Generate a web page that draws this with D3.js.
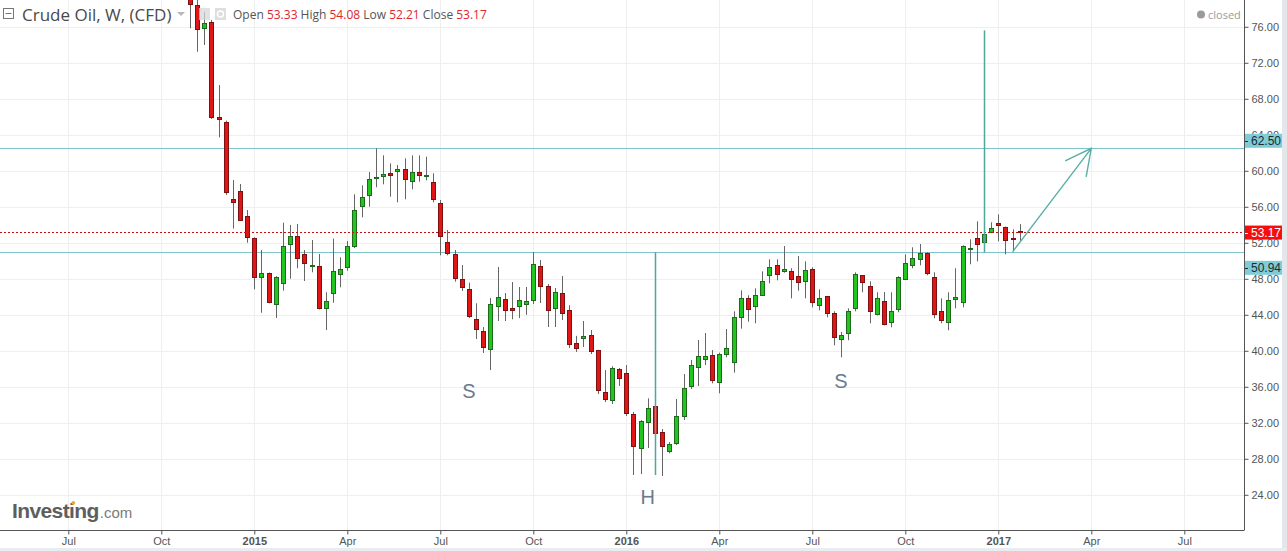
<!DOCTYPE html>
<html><head><meta charset="utf-8">
<script src="https://cdn.jsdelivr.net/npm/d3@7"></script>
<style>
html,body{margin:0;padding:0;background:#fff;overflow:hidden;}
svg{display:block;font-family:"Liberation Sans",Arial,sans-serif;}
</style></head><body>
<svg id="chart" width="1287" height="551"></svg>
<script>
// ---------- DATA ----------
const firstWeek = "2014-11-03"; // weekly bars, one per week from this Monday
const opens = [80.5,78.42,75.83,76.53,65.94,65.39,56.9,57.72,54.94,52.53,48.17,48.61,45.17,47.5,51.9,52.72,50.72,49.4,49.46,44.72,
46.39,48.5,49.34,51.68,56.09,57.31,59.2,59.39,59.76,59.94,60.17,58.83,59.83,59.45,58.72,56.39,52.06,50.72,47.98,46.83,
43.5,42.17,40.23,44.94,45.72,44.72,44.94,45.24,45.61,49.39,47.17,44.72,46.39,44.5,40.87,41.39,41.72,40.06,35.39,34.5,
37.94,37.5,32.94,29.17,32.06,33.83,30.94,28.83,29.72,32.72,36.12,38.17,39.06,39.5,36.57,39.61,38.72,43.72,45.83,44.94,
46.17,48.39,49.5,48.83,48.83,48.28,47.72,49.06,45.06,46.06,44.17,41.28,41.94,44.72,48.39,47.17,44.06,45.5,43.17,44.61,
47.94,49.5,50.17,50.83,48.17,44.39,43.17,45.72,45.39,51.35,52.5,52.06,53.17,54.17,53.72,52.5,53.33];
const highs = [81.0,79.0,77.68,76.76,69.53,65.57,58.98,58.53,55.64,52.61,51.2,48.7,48.3,54.23,53.98,54.09,51.2,52.31,50.76,46.5,
52.46,50.39,52.2,57.39,58.39,59.87,62.5,61.72,60.83,60.64,61.39,61.72,61.72,61.57,59.72,56.76,53.42,51.2,49.53,47.57,
45.28,42.64,45.87,49.31,46.42,47.64,47.09,47.09,50.98,50.09,47.42,46.98,48.31,45.06,41.66,43.31,42.31,40.1,37.87,38.28,
38.09,38.42,33.2,32.31,34.72,34.28,31.31,29.86,34.64,37.42,38.98,41.2,41.98,40.09,39.79,42.42,44.39,46.72,46.17,46.94,
48.83,50.17,50.17,51.64,49.17,50.53,49.94,49.28,46.83,46.1,44.39,42.09,44.72,48.72,48.4,47.72,46.5,46.53,46.5,48.28,
50.72,51.5,51.87,50.94,48.72,45.83,46.5,49.17,51.72,52.39,54.39,53.72,54.28,55.17,53.8,53.5,54.08];
const lows = [75.83,73.23,73.98,65.76,63.72,57.31,53.57,54.42,52.01,46.83,44.23,45.28,43.64,46.68,48.01,49.17,47.76,48.72,44.6,42.31,
45.34,47.06,48.9,51.42,54.83,56.01,58.17,58.5,57.12,56.5,56.83,57.94,58.79,58.94,56.5,50.61,50.61,47.68,46.64,43.64,
41.31,39.76,37.87,43.31,43.31,43.5,43.64,43.99,45.2,45.31,42.64,42.64,43.42,40.31,39.87,40.42,39.64,35.2,34.31,34.09,
36.09,32.76,26.2,26.31,29.2,29.53,26.09,28.61,29.53,32.31,35.76,36.09,38.42,36.39,35.28,39.28,37.57,42.46,43.23,43.06,
46.1,47.5,47.83,48.68,45.83,46.68,45.83,44.83,44.5,43.72,40.61,39.28,41.17,44.39,46.5,43.06,43.94,42.83,42.61,44.28,
47.87,49.17,49.5,48.39,43.61,43.06,42.28,44.72,44.83,49.61,49.94,51.06,53.06,52.17,50.72,51.06,52.21];
const closes = [78.53,75.72,76.39,66.01,65.72,57.68,56.5,54.57,52.61,48.23,48.61,45.46,48.2,51.61,52.72,50.28,49.72,49.5,44.72,45.57,
48.83,49.06,51.61,55.61,57.06,59.06,59.28,59.64,59.57,60.17,59.06,59.83,59.5,59.5,56.83,52.72,50.83,48.06,47.06,43.83,
42.39,40.39,45.17,45.98,44.57,44.57,45.61,45.5,49.61,47.17,44.5,46.5,44.23,40.72,40.28,41.61,39.94,35.61,34.68,38.06,
36.94,33.06,29.39,32.17,33.61,30.83,29.39,29.61,32.72,35.83,38.39,39.39,39.39,36.72,39.61,40.28,43.72,45.83,44.61,46.17,
47.72,49.28,48.5,49.06,47.94,47.61,48.94,45.39,45.83,44.17,41.5,41.72,44.39,48.5,47.61,44.39,45.83,42.94,44.39,48.17,
49.72,50.28,50.83,48.61,44.06,43.39,45.61,45.94,51.61,51.42,51.83,52.94,53.61,53.94,52.28,52.39,53.17];

const tickDates = ["2014-07-07","2014-10-06","2015-01-05","2015-04-06","2015-07-06","2015-10-05","2016-01-04",
                   "2016-04-04","2016-07-04","2016-10-03","2017-01-02","2017-04-03","2017-07-03"];
const tickLabels = ["Jul","Oct","2015","Apr","Jul","Oct","2016","Apr","Jul","Oct","2017","Apr","Jul"];
const yearLabels = ["2015","2016","2017"];
const priceTicks = [24,28,32,36,40,44,48,52,56,60,64,68,72,76];

const resistanceLevel = 62.50;
const necklineLevel = 50.94;
const lastClose = 53.17;
const headLow = 26.2;
const targetTop = 75.6;
const headLineDate = "2016-02-01";
const breakoutDate = "2016-12-19";
const arrowStartDate = "2017-01-16";
const arrowStartPrice = 51.0;
const arrowEndDate = "2017-04-03";
const patternLabels = ["S","H","S"];
const patternDates = ["2015-08-03","2016-01-25","2016-08-01"];
const patternPrices = [35.5,23.8,36.6];

const headerLabels = ["Open","High","Low","Close"];
const headerValues = ["53.33","54.08","52.21","53.17"];

// ---------- LAYOUT ----------
const W = 1244, H = 530;
const parse = d3.utcParse("%Y-%m-%d");
const dates = opens.map((_, i) => d3.utcDay.offset(parse(firstWeek), 7 * i));

const x = d3.scaleUtc().domain([parse("2015-01-05"), parse("2017-01-02")]).range([254.3, 998.3]);
const y = d3.scaleLinear().domain([24, 76]).range([494.8, 26.8]);

const svg = d3.select("#chart");

// side strips
svg.append("rect").attr("x", 1282).attr("y", 0).attr("width", 5).attr("height", 551).attr("fill", "#e3e6eb");
svg.append("rect").attr("x", 0).attr("y", 548).attr("width", 1287).attr("height", 3).attr("fill", "#e9ecf0");

// grid
const grid = svg.append("g");
grid.selectAll("line.h").data(priceTicks).join("line")
  .attr("x1", 0).attr("x2", W)
  .attr("y1", d => Math.round(y(d)) + 0.5).attr("y2", d => Math.round(y(d)) + 0.5)
  .attr("stroke", "#efefef");
grid.selectAll("line.v").data(tickDates).join("line")
  .attr("x1", d => Math.round(x(parse(d))) + 0.5).attr("x2", d => Math.round(x(parse(d))) + 0.5)
  .attr("y1", 0).attr("y2", H)
  .attr("stroke", "#efefef");

// clip
svg.append("clipPath").attr("id", "plot").append("rect").attr("x", 0).attr("y", 0).attr("width", W).attr("height", H);
const plot = svg.append("g").attr("clip-path", "url(#plot)");

// level lines
plot.append("line").attr("x1", 0).attr("x2", W)
  .attr("y1", Math.round(y(resistanceLevel)) + 0.5).attr("y2", Math.round(y(resistanceLevel)) + 0.5)
  .attr("stroke", "#7fc3cb").attr("stroke-width", 1);
plot.append("line").attr("x1", 0).attr("x2", W)
  .attr("y1", Math.round(y(necklineLevel)) + 0.5).attr("y2", Math.round(y(necklineLevel)) + 0.5)
  .attr("stroke", "#7fc3cb").attr("stroke-width", 1);

// candles
const data = dates.map((d, i) => ({d, o: opens[i], h: highs[i], l: lows[i], c: closes[i]}));
const cg = plot.append("g");
cg.selectAll("line.w").data(data).join("line")
  .attr("x1", d => Math.round(x(d.d)) + 0.5).attr("x2", d => Math.round(x(d.d)) + 0.5)
  .attr("y1", d => y(d.h)).attr("y2", d => y(d.l))
  .attr("stroke", "#666").attr("stroke-width", 1);
cg.selectAll("rect.b").data(data).join("rect")
  .attr("x", d => Math.round(x(d.d)) + 0.5 - 2)
  .attr("width", 4)
  .attr("y", d => Math.round(y(Math.max(d.o, d.c))) + 0.5)
  .attr("height", d => Math.max(Math.round(y(Math.min(d.o, d.c))) - Math.round(y(Math.max(d.o, d.c))), 1))
  .attr("fill", d => d.c >= d.o ? "#22c41f" : "#e01515")
  .attr("stroke", d => d.c >= d.o ? "#1d6b1a" : "#7d1010")
  .attr("stroke-width", 1);

// last close dotted line
plot.append("line").attr("x1", 0).attr("x2", W)
  .attr("y1", Math.round(y(lastClose)) + 0.5).attr("y2", Math.round(y(lastClose)) + 0.5)
  .attr("stroke", "#c81010").attr("stroke-width", 1).attr("stroke-dasharray", "2,2");

// vertical measurement lines
const teal = "#4fa79c";
plot.append("line")
  .attr("x1", Math.round(x(parse(headLineDate))) + 0.5).attr("x2", Math.round(x(parse(headLineDate))) + 0.5)
  .attr("y1", y(necklineLevel)).attr("y2", y(headLow))
  .attr("stroke", teal).attr("stroke-width", 1.5);
plot.append("line")
  .attr("x1", Math.round(x(parse(breakoutDate))) + 0.5).attr("x2", Math.round(x(parse(breakoutDate))) + 0.5)
  .attr("y1", y(necklineLevel)).attr("y2", y(targetTop))
  .attr("stroke", teal).attr("stroke-width", 1.5);

// arrow
const ax0 = x(parse(arrowStartDate)), ay0 = y(arrowStartPrice);
const ax1 = x(parse(arrowEndDate)), ay1 = y(resistanceLevel);
const ang = Math.atan2(ay0 - ay1, ax0 - ax1);
const hl = 29, spread = 27 * Math.PI / 180;
const arrowPath = d3.path();
arrowPath.moveTo(ax0, ay0); arrowPath.lineTo(ax1, ay1);
arrowPath.moveTo(ax1 + hl * Math.cos(ang + spread), ay1 + hl * Math.sin(ang + spread));
arrowPath.lineTo(ax1, ay1);
arrowPath.lineTo(ax1 + hl * Math.cos(ang - spread), ay1 + hl * Math.sin(ang - spread));
plot.append("path").attr("d", arrowPath.toString()).attr("fill", "none")
  .attr("stroke", "#5aaea5").attr("stroke-width", 1.4);

// S H S labels
plot.selectAll("text.pat").data(patternLabels).join("text")
  .attr("x", (d, i) => x(parse(patternDates[i])))
  .attr("y", (d, i) => y(patternPrices[i]))
  .attr("text-anchor", "middle").attr("dominant-baseline", "central")
  .attr("font-size", 20).attr("fill", "#6b7b8d")
  .text(d => d);

// axes lines
svg.append("line").attr("x1", W + 0.5).attr("x2", W + 0.5).attr("y1", 0).attr("y2", H + 0.5).attr("stroke", "#555");
svg.append("line").attr("x1", 0).attr("x2", W).attr("y1", H + 0.5).attr("y2", H + 0.5).attr("stroke", "#555");

// right axis
const ya = svg.append("g").attr("transform", `translate(${W + 0.5},0)`)
  .call(d3.axisRight(y).tickValues(priceTicks).tickSize(4).tickPadding(3).tickFormat(d3.format(".2f")));
ya.select(".domain").remove();
ya.selectAll(".tick line").attr("stroke", "#555");
ya.selectAll(".tick text").attr("fill", "#555").attr("font-size", 11).attr("font-family", "Liberation Sans, Arial, sans-serif");

// bottom axis
const xa = svg.append("g").attr("transform", `translate(0,${H + 0.5})`)
  .call(d3.axisBottom(x).tickValues(tickDates.map(parse)).tickSize(4).tickPadding(3).tickFormat((d, i) => tickLabels[i]));
xa.select(".domain").remove();
xa.selectAll(".tick line").attr("stroke", "#555");
xa.selectAll(".tick text").attr("fill", "#555").attr("font-size", 11).attr("font-family", "Liberation Sans, Arial, sans-serif")
  .attr("font-weight", (d, i) => yearLabels.includes(tickLabels[i]) ? "bold" : "normal");

// price labels on axis
function priceTag(val, offset, fill, textFill, bold) {
  const cy = y(val) + offset;
  const g = svg.append("g");
  g.append("rect").attr("x", W + 1).attr("y", cy - 7).attr("width", 37).attr("height", 14).attr("fill", fill);
  g.append("line").attr("x1", W + 1).attr("x2", W + 4).attr("y1", Math.round(cy) + 0.5).attr("y2", Math.round(cy) + 0.5).attr("stroke", textFill);
  g.append("text").attr("x", W + 7).attr("y", cy).attr("dominant-baseline", "central")
    .attr("font-size", 12).attr("fill", textFill).attr("font-weight", bold ? "bold" : "normal")
    .text(d3.format(".2f")(val));
}
priceTag(resistanceLevel, -7.5, "#80ccd6", "#1c2a30", false);
priceTag(lastClose, 0.3, "#f70d0d", "#ffffff", false);
priceTag(necklineLevel, 15.5, "#80ccd6", "#1c2a30", false);

// header
const hdr = svg.append("g");
hdr.append("rect").attr("x", 3.5).attr("y", 8.5).attr("width", 10).attr("height", 10).attr("fill", "#fff").attr("stroke", "#777");
hdr.append("line").attr("x1", 5.5).attr("x2", 11.5).attr("y1", 13.5).attr("y2", 13.5).attr("stroke", "#777");
hdr.append("text").attr("x", 22).attr("y", 20.5).attr("font-family", "Open Sans, sans-serif").attr("font-size", 17)
  .attr("fill", "#4a4a4a").text("Crude Oil, W, (CFD)");
hdr.append("path").attr("d", "M177,12 L185,12 L181,16 Z").attr("fill", "#b8b8b8");
hdr.append("rect").attr("x", 199).attr("y", 8).attr("width", 11).attr("height", 12).attr("fill", "#d8d8d8").attr("opacity", 0.75);
hdr.append("rect").attr("x", 215).attr("y", 8).attr("width", 11).attr("height", 12).attr("fill", "#d8d8d8").attr("opacity", 0.85);
hdr.append("circle").attr("cx", 220.5).attr("cy", 14).attr("r", 3).attr("fill", "none").attr("stroke", "#fff").attr("stroke-width", 1.5);
const ohlc = hdr.append("text").attr("x", 233).attr("y", 19).attr("font-family", "Open Sans, sans-serif").attr("font-size", 12);
headerLabels.forEach((lab, i) => {
  ohlc.append("tspan").attr("fill", "#555").text((i ? " " : "") + lab + " ");
  ohlc.append("tspan").attr("fill", "#e0262d").text(headerValues[i]);
});

// closed marker
svg.append("circle").attr("cx", 1201).attr("cy", 14.5).attr("r", 4).attr("fill", "#9a9a9a");
svg.append("text").attr("x", 1208).attr("y", 18.5).attr("font-family", "Open Sans, sans-serif").attr("font-size", 11)
  .attr("fill", "#9a9a9a").text("closed");

// watermark
const wm = svg.append("text").attr("x", 12).attr("y", 518).attr("font-family", "Liberation Sans, Arial, sans-serif");
wm.append("tspan").attr("font-size", 21).attr("font-weight", "bold").attr("fill", "#5e5e5e").attr("letter-spacing", -0.6).text("Investing");
wm.append("tspan").attr("font-size", 15).attr("fill", "#7a7a7a").attr("dx", 1).text(".com");
svg.append("circle").attr("cx", 73.3).attr("cy", 502.8).attr("r", 1.9).attr("fill", "#f4a62a");
</script>
</body></html>
